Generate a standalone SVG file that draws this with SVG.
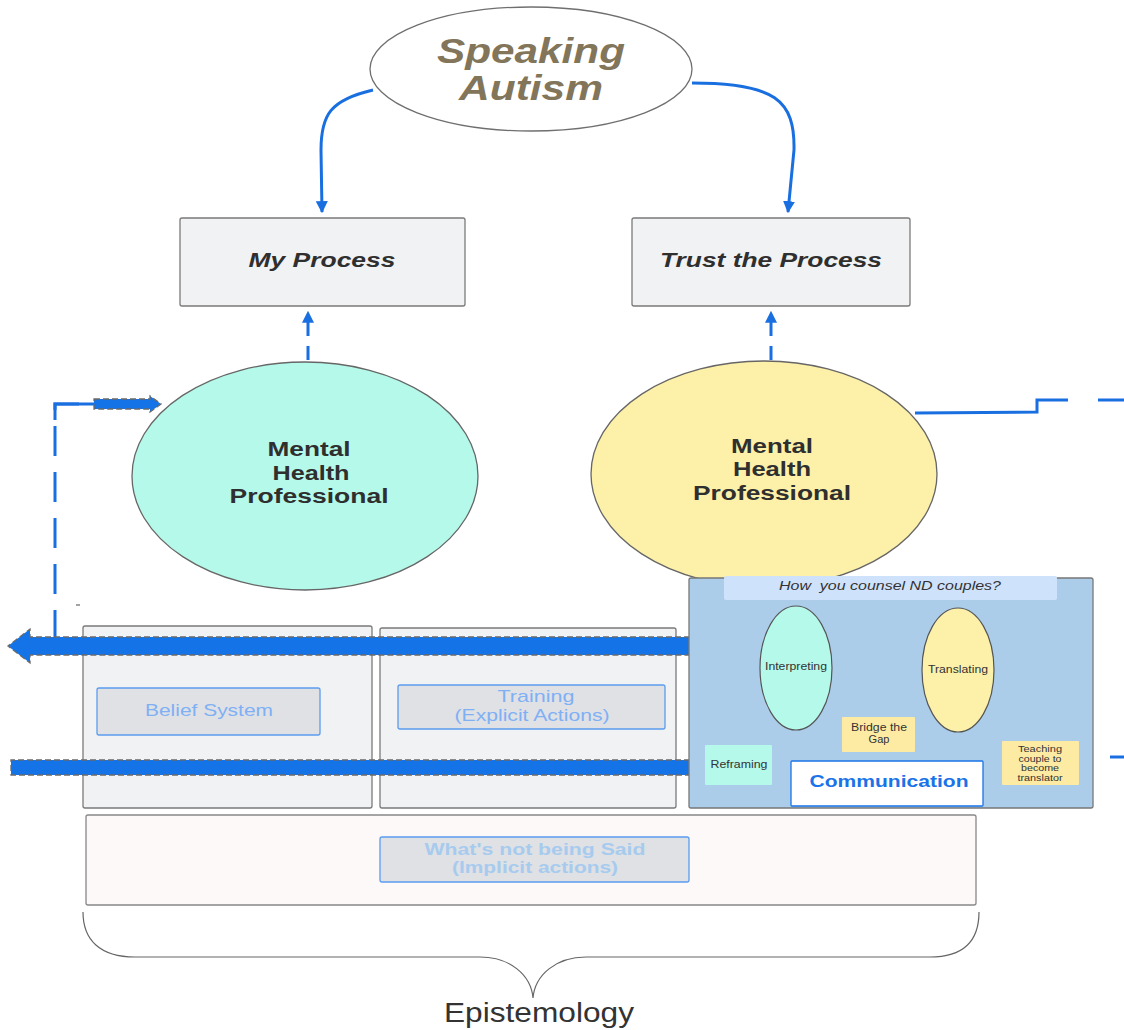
<svg xmlns="http://www.w3.org/2000/svg" width="1124" height="1030" viewBox="0 0 1124 1030">
<defs>
<marker id="ah" viewBox="0 0 10 10" refX="9" refY="5" markerWidth="4" markerHeight="4" orient="auto-start-reverse" markerUnits="strokeWidth">
<path d="M0,0 L10,5 L0,10 z" fill="#1a6fe0"/>
</marker>
<style>
.t{font-family:"Liberation Sans",Arial,sans-serif;}
.box{fill:#f1f2f4;stroke:#7a7a7a;stroke-width:1.3;}
.inner{fill:#dfe1e5;stroke:#5b9cf0;stroke-width:1.3;}
.conn{fill:none;stroke:#1a6fe0;stroke-width:3;}
.thick{fill:#1473e6;stroke:#6a6a6a;stroke-width:1.3;stroke-dasharray:6 3;}
</style>
</defs>
<rect width="1124" height="1030" fill="#ffffff"/>

<g id="connectors">
<path class="conn" d="M373,90 C330,100 321,115 321,150 L322,212" marker-end="url(#ah)"/>
<path class="conn" d="M692,83 C775,83 795,100 794,150 L788,212" marker-end="url(#ah)"/>
<path class="conn" d="M308,360 L308,312" stroke-dasharray="14 10" marker-end="url(#ah)"/>
<path class="conn" d="M771,360 L771,312" stroke-dasharray="14 10" marker-end="url(#ah)"/>
<path class="conn" d="M915,413 L1037,412 L1037,400 L1068,400 M1098,400 L1124,400" stroke-width="2.6"/>
<path class="conn" d="M55,640 L55,404 L95,404" stroke-dasharray="30 16" stroke-width="2.6"/>
<path class="conn" d="M55,420 L55,404 L95,404" stroke-width="2.6"/>
<path class="thick" d="M94,399 L150,399 L150,396 L161,404 L150,412 L150,409 L94,409 z"/>
<path class="conn" d="M1110,757 L1124,757" stroke-width="2.6"/>
<line x1="76" y1="605" x2="80" y2="605" stroke="#666" stroke-width="1.2"/>
</g>

<g id="node-speaking-autism">
<ellipse cx="531" cy="69" rx="161" ry="62" fill="#ffffff" stroke="#6f6f6f" stroke-width="1.3"/>
<text class="t" x="531" y="63" text-anchor="middle" font-size="35" font-weight="bold" font-style="italic" fill="#827559" textLength="188" lengthAdjust="spacingAndGlyphs">Speaking</text>
<text class="t" x="531" y="100" text-anchor="middle" font-size="35" font-weight="bold" font-style="italic" fill="#827559" textLength="144" lengthAdjust="spacingAndGlyphs">Autism</text>
</g>

<g id="node-my-process">
<rect class="box" x="180" y="218" width="285" height="88" rx="2"/>
<text class="t" x="322" y="267" text-anchor="middle" font-size="21" font-weight="bold" font-style="italic" fill="#2f2f2f" textLength="147" lengthAdjust="spacingAndGlyphs">My Process</text>
</g>

<g id="node-trust-process">
<rect class="box" x="632" y="218" width="278" height="88" rx="2"/>
<text class="t" x="771" y="267" text-anchor="middle" font-size="21" font-weight="bold" font-style="italic" fill="#2f2f2f" textLength="222" lengthAdjust="spacingAndGlyphs">Trust the Process</text>
</g>

<g id="node-mhp-left">
<ellipse cx="305" cy="476" rx="173" ry="114" fill="#b5f9ea" stroke="#666" stroke-width="1.3"/>
<g class="t" font-size="20" font-weight="bold" fill="#2f2f2f" text-anchor="middle">
<text x="309" y="456" textLength="83" lengthAdjust="spacingAndGlyphs">Mental</text>
<text x="311" y="480" textLength="77" lengthAdjust="spacingAndGlyphs">Health</text>
<text x="309" y="503" textLength="159" lengthAdjust="spacingAndGlyphs">Professional</text>
</g>
</g>

<g id="node-mhp-right">
<ellipse cx="764" cy="474" rx="173" ry="113" fill="#fdf0a8" stroke="#666" stroke-width="1.3"/>
<g class="t" font-size="20" font-weight="bold" fill="#2f2f2f" text-anchor="middle">
<text x="772" y="453" textLength="82" lengthAdjust="spacingAndGlyphs">Mental</text>
<text x="772" y="476" textLength="78" lengthAdjust="spacingAndGlyphs">Health</text>
<text x="772" y="500" textLength="158" lengthAdjust="spacingAndGlyphs">Professional</text>
</g>
</g>

<g id="node-belief-container">
<rect class="box" x="83" y="626" width="289" height="182" rx="2"/>
</g>
<g id="node-training-container">
<rect class="box" x="380" y="628" width="296" height="180" rx="2"/>
</g>

<g id="node-belief-system">
<rect class="inner" x="97" y="688" width="223" height="47" rx="2"/>
<text class="t" x="209" y="716" text-anchor="middle" font-size="17" fill="#7fb0f4" textLength="128" lengthAdjust="spacingAndGlyphs">Belief System</text>
</g>

<g id="node-training">
<rect class="inner" x="398" y="685" width="267" height="44" rx="2"/>
<text class="t" x="536" y="702" text-anchor="middle" font-size="17" fill="#7fb0f4" textLength="77" lengthAdjust="spacingAndGlyphs">Training</text>
<text class="t" x="532" y="721" text-anchor="middle" font-size="17" fill="#7fb0f4" textLength="155" lengthAdjust="spacingAndGlyphs">(Explicit Actions)</text>
</g>

<g id="thick-arrows">
<path class="thick" d="M690,637 L30,637 L30,629 L8,646 L30,663 L30,655 L690,655 z"/>
<path class="thick" d="M690,760 L11,760 L11,775 L690,775 z"/>
</g>

<g id="node-counsel-panel">
<rect x="689" y="578" width="404" height="230" rx="2" fill="#abcde9" stroke="#777" stroke-width="1.3"/>
<rect x="724" y="576" width="333" height="24" rx="2" fill="#cfe2fb"/>
<text class="t" x="890" y="590" text-anchor="middle" font-size="13" font-style="italic" fill="#333" textLength="222" lengthAdjust="spacingAndGlyphs" xml:space="preserve">How  you counsel ND couples?</text>
</g>

<g id="node-interpreting">
<ellipse cx="796" cy="668" rx="36" ry="62" fill="#b5f9ea" stroke="#555" stroke-width="1.2"/>
<text class="t" x="796" y="670" text-anchor="middle" font-size="11" fill="#333" textLength="62" lengthAdjust="spacingAndGlyphs">Interpreting</text>
</g>

<g id="node-translating">
<ellipse cx="958" cy="670" rx="36" ry="62" fill="#fdf0a8" stroke="#555" stroke-width="1.2"/>
<text class="t" x="958" y="673" text-anchor="middle" font-size="11" fill="#333" textLength="60" lengthAdjust="spacingAndGlyphs">Translating</text>
</g>

<g id="node-bridge">
<rect x="842" y="717" width="73" height="35" rx="1" fill="#fdeba3"/>
<text class="t" x="879" y="731" text-anchor="middle" font-size="11" fill="#333" textLength="56" lengthAdjust="spacingAndGlyphs">Bridge the</text>
<text class="t" x="879" y="743" text-anchor="middle" font-size="11" fill="#333">Gap</text>
</g>

<g id="node-reframing">
<rect x="705" y="745" width="67" height="40" rx="1" fill="#b5f9ea"/>
<text class="t" x="739" y="768" text-anchor="middle" font-size="11" fill="#333" textLength="57" lengthAdjust="spacingAndGlyphs">Reframing</text>
</g>

<g id="node-teaching">
<rect x="1002" y="741" width="77" height="44" rx="1" fill="#fdeba3"/>
<g class="t" font-size="9" fill="#333" text-anchor="middle">
<text x="1040" y="752" textLength="44" lengthAdjust="spacingAndGlyphs">Teaching</text>
<text x="1040" y="761.5" textLength="43" lengthAdjust="spacingAndGlyphs">couple to</text>
<text x="1040" y="771" textLength="38" lengthAdjust="spacingAndGlyphs">become</text>
<text x="1040" y="780.5" textLength="45" lengthAdjust="spacingAndGlyphs">translator</text>
</g>
</g>

<g id="node-communication">
<rect x="791" y="761" width="192" height="45" rx="1" fill="#ffffff" stroke="#1a73e8" stroke-width="1.3"/>
<text class="t" x="889" y="787" text-anchor="middle" font-size="17" font-weight="bold" fill="#1a73e8" textLength="159" lengthAdjust="spacingAndGlyphs">Communication</text>
</g>

<g id="node-implicit-container">
<rect x="86" y="815" width="890" height="90" rx="2" fill="#fdf9f8" stroke="#888" stroke-width="1.3"/>
</g>

<g id="node-implicit">
<rect class="inner" x="380" y="837" width="309" height="45" rx="2"/>
<text class="t" x="535" y="855" text-anchor="middle" font-size="16" font-weight="bold" fill="#a7cbee" textLength="221" lengthAdjust="spacingAndGlyphs">What's not being Said</text>
<text class="t" x="535" y="873" text-anchor="middle" font-size="16" font-weight="bold" fill="#a7cbee" textLength="166" lengthAdjust="spacingAndGlyphs">(Implicit actions)</text>
</g>

<g id="node-epistemology">
<path d="M83,912 C83,940 100,957 135,957 L480,957 C510,957 531,975 533,998 C535,975 556,957 586,957 L930,957 C965,957 979,940 979,912" fill="none" stroke="#666" stroke-width="1.2"/>
<text class="t" x="539" y="1022" text-anchor="middle" font-size="27" fill="#333" textLength="190" lengthAdjust="spacingAndGlyphs">Epistemology</text>
</g>
</svg>
